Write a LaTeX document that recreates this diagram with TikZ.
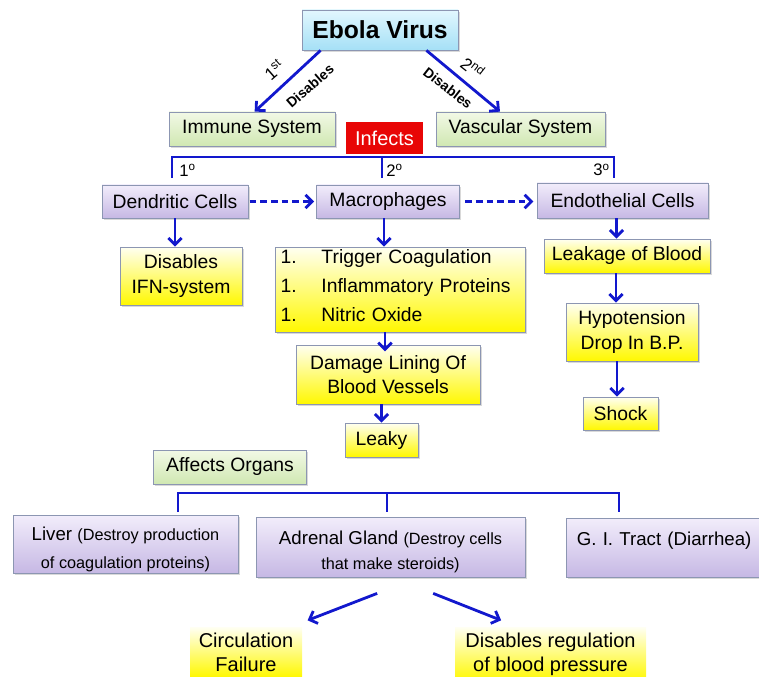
\documentclass[tikz,border=0pt]{standalone}
\usepackage{fontspec}
\setmainfont{Liberation Sans}
\usetikzlibrary{arrows.meta}
\usetikzlibrary{shadows}
\usepackage{xcolor}

\definecolor{arrowblue}{RGB}{18,24,205}
\definecolor{boxline}{RGB}{140,150,178}
\definecolor{cyantop}{RGB}{226,247,254}
\definecolor{cyanbot}{RGB}{165,224,246}
\definecolor{greentop}{RGB}{242,249,230}
\definecolor{greenbot}{RGB}{208,232,178}
\definecolor{purpletop}{RGB}{242,237,251}
\definecolor{purplebot}{RGB}{198,184,228}
\definecolor{yellowtop}{RGB}{255,255,242}
\definecolor{yellowbot}{RGB}{255,248,0}
\definecolor{infectsred}{RGB}{232,6,6}

\newcommand{\smalltext}[1]{{\fontsize{12.2}{21}\selectfont #1}}

\tikzset{
  box/.style={draw=boxline, line width=0.6pt, align=center, inner sep=0pt,
    font=\fontsize{14.5}{18.5}\selectfont,
    drop shadow={shadow xshift=1.2pt, shadow yshift=-1.2pt, opacity=0.3}},
  cyanbox/.style={box, top color=cyantop, bottom color=cyanbot},
  greenbox/.style={box, top color=greentop, bottom color=greenbot},
  purplebox/.style={box, top color=purpletop, bottom color=purplebot},
  yellowbox/.style={box, top color=yellowtop, bottom color=yellowbot},
  glowtext/.style={top color=yellowtop, bottom color=yellowbot, align=center,
    inner xsep=0pt, inner ysep=4pt, font=\fontsize{15}{18.5}\selectfont},
  flow/.style={draw=arrowblue, line width=2.1pt, -{Straight Barb[length=5pt,width=10pt]}},
  dashflow/.style={flow, dash pattern={on 5pt off 3pt}},
  barline/.style={draw=arrowblue, line width=2.2pt},
  degree/.style={inner sep=0.75pt, font=\fontsize{12.5}{14}\selectfont},
}

\begin{document}
\begin{tikzpicture}[x=0.75pt,y=0.75pt,yscale=-1,xscale=1]
\useasboundingbox (0,0) rectangle (759,677);

% Text Node
\node (ebola) [cyanbox, minimum width=117pt, minimum height=30pt, font=\fontsize{18.5}{22}\selectfont\bfseries] at (380,30) {Ebola Virus};
% Text Node
\node (immune) [greenbox, minimum width=124.5pt, minimum height=25.5pt] at (252,129) {Immune System};
% Text Node
\node (vascular) [greenbox, minimum width=126.75pt, minimum height=25.5pt] at (520.5,129) {Vascular System};
% Text Node
\node (infects) [fill=infectsred, text=white, inner sep=0pt, minimum width=57.75pt, minimum height=24pt, font=\fontsize{15}{18}\selectfont] at (384.5,138) {Infects};

%Straight Lines
\draw [flow] ([xshift=14.25pt]ebola.south west) -- ([xshift=2pt]immune.north);
\draw [flow] ([xshift=-24pt]ebola.south east) -- ([xshift=-15.4pt]vascular.north);
% Text Node
\node (first) [rotate=41, inner sep=0pt, font=\fontsize{13}{15}\selectfont] at (274,70) {1\textsuperscript{st}};
\node (disleft) [rotate=41, inner sep=0pt, font=\fontsize{10.5}{12}\selectfont\bfseries] at (310,86) {Disables};
\node (second) [rotate=-38, inner sep=0pt, font=\fontsize{13}{15}\selectfont] at (473,68) {2\textsuperscript{nd}};
\node (disright) [rotate=-38, inner sep=0pt, font=\fontsize{10.5}{12}\selectfont\bfseries] at (448,88) {Disables};

%Shape: bar under Infects
\draw [barline] (172,178) -- (172,157) -- (614,157) -- (614,178) (382,157) -- (382,178);
% Text Node
\node (deg1) [degree, anchor=west] at (178,170) {1\textsuperscript{o}};
\node (deg2) [degree, anchor=west] at (385,170) {2\textsuperscript{o}};
\node (deg3) [degree, anchor=east] at (611,170) {3\textsuperscript{o}};

% Text Node
\node (dendritic) [purplebox, minimum width=109.5pt, minimum height=24.75pt] at (175,201.5) {Dendritic Cells};
\node (macrophages) [purplebox, minimum width=107.25pt, minimum height=24.75pt] at (388,201.5) {Macrophages};
\node (endothelial) [purplebox, minimum width=128.25pt, minimum height=26.25pt] at (622.5,200.5) {Endothelial Cells};

%Straight Lines
\draw [dashflow, shorten <=1pt, shorten >=1.5pt] (dendritic.east) -- (macrophages.west);
\draw [dashflow, shorten <=4pt, shorten >=2.5pt] (macrophages.east) -- (endothelial.west |- macrophages.east);

% Text Node
\node (ifn) [yellowbox, minimum width=91.5pt, minimum height=43.5pt] at (181,276) {Disables\\IFN-system};
\node (list) [yellowbox, text width=180pt, inner xsep=3.75pt, minimum height=63.75pt, align=left, font=\fontsize{14.5}{21.75}\selectfont] at (400.5,289.5) {\makebox[30.75pt][l]{1.}Trigger Coagulation\\\makebox[30.75pt][l]{1.}Inflammatory Proteins\\\makebox[30.75pt][l]{1.}Nitric Oxide\rule[-6pt]{0pt}{6pt}};
\node (leakage) [yellowbox, minimum width=124.5pt, minimum height=25.5pt] at (627,256) {Leakage of Blood};
\node (hypotension) [yellowbox, minimum width=99pt, minimum height=43.5pt] at (632,332) {Hypotension\\Drop In B.P.};
\node (shock) [yellowbox, minimum width=56.25pt, minimum height=24.75pt] at (620.5,413.5) {Shock};
\node (damage) [yellowbox, minimum width=138pt, minimum height=44.25pt] at (388,374.5) {Damage Lining Of\\Blood Vessels};
\node (leaky) [yellowbox, minimum width=54.75pt, minimum height=25.5pt] at (381.5,440) {Leaky};

%Straight Lines
\draw [flow] (dendritic.south) -- (dendritic.south |- ifn.north);
\draw [flow] ([xshift=-3pt]macrophages.south) -- ([xshift=-3pt]macrophages.south |- list.north);
\draw [flow] ([xshift=-4.5pt]endothelial.south) -- ([xshift=-4.5pt]endothelial.south |- leakage.north);
\draw [flow] ([xshift=-8.25pt]leakage.south) -- ([xshift=-8.25pt]leakage.south |- hypotension.north);
\draw [flow] ([xshift=-2.6pt]shock.north |- hypotension.south) -- ([xshift=-2.6pt]shock.north);
\draw [flow] ([xshift=-2.25pt]damage.north |- list.south) -- ([xshift=-2.25pt,yshift=5pt]damage.north);
\draw [flow] (leaky.north |- damage.south) -- (leaky.north);

% Text Node
\node (affects) [greenbox, minimum width=114.75pt, minimum height=25.5pt] at (230,467) {Affects Organs};

%Shape: bar over organs
\draw [barline] (178,512) -- (178,493) -- (619,493) -- (619,512) (387,493) -- (387,512);

% Text Node
\node (liver) [purplebox, minimum width=168.75pt, minimum height=43.5pt, font=\fontsize{14}{21}\selectfont] at (125.5,544) {\rule{0pt}{19pt}Liver \smalltext{(Destroy production}\\\smalltext{of coagulation proteins)}};
\node (adrenal) [purplebox, minimum width=201.75pt, minimum height=45pt, font=\fontsize{14}{18.75}\selectfont] at (390.5,547) {\rule{0pt}{17pt}Adrenal Gland \smalltext{(Destroy cells}\\\smalltext{that make steroids)}};
\node (gi) [purplebox, text width=160pt, inner xsep=7.5pt, align=left, text height=11pt, text depth=14pt, minimum height=44.25pt, font=\fontsize{14}{18}\selectfont] at (683.5,547.5) {G. I. Tract (Diarrhea)};

% Text Node
\node (circulation) [glowtext, anchor=north, minimum width=84pt] at (246,627) {Circulation\\Failure};
\node (pressure) [glowtext, anchor=north, minimum width=143.25pt] at (550.5,627) {Disables regulation\\of blood pressure};

%Straight Lines
\coordinate (adrenalleft) at ([xshift=-10pt,yshift=12pt]adrenal.south);
\coordinate (adrenalright) at ([xshift=32pt,yshift=12pt]adrenal.south);
\draw [flow] (adrenalleft) -- ([xshift=4pt,yshift=-5pt]circulation.north east);
\draw [flow] (adrenalright) -- ([xshift=-37pt,yshift=-5pt]pressure.north);

\end{tikzpicture}
\end{document}
